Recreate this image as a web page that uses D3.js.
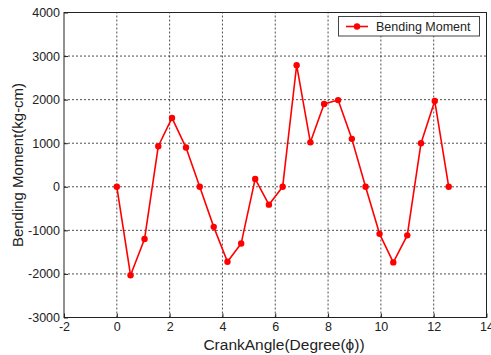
<!DOCTYPE html>
<html>
<head>
<meta charset="utf-8">
<script src="https://cdn.jsdelivr.net/npm/d3@7"></script>
<style>
  html, body { margin: 0; padding: 0; background: #fff; }
  svg { display: block; font-family: "Liberation Sans", Arial, sans-serif; }
</style>
</head>
<body>
<svg id="chart" width="491" height="355"></svg>
<script>
// Crank angle (radians, steps of pi/6 over two revolutions)
const crankAngle = [0, 0.52, 1.05, 1.57, 2.09, 2.62, 3.14, 3.67, 4.19, 4.71, 5.24, 5.76, 6.28,
                    6.81, 7.33, 7.85, 8.38, 8.90, 9.42, 9.95, 10.47, 11.00, 11.52, 12.04, 12.57];
// Bending moment (kg-cm)
const bendingMoment = [0, -2030, -1200, 930, 1580, 900, 0, -920, -1720, -1300, 180, -410, 0,
                       2790, 1020, 1900, 1990, 1100, 0, -1080, -1735, -1115, 1000, 1970, 0];
const xTicks = [-2, 0, 2, 4, 6, 8, 10, 12, 14];
const yTicks = [-3000, -2000, -1000, 0, 1000, 2000, 3000, 4000];
const seriesName = "Bending Moment";

const svg = d3.select("#chart");
const m = { left: 64, right: 4.5, top: 12.5, bottom: 37.5 };
const W = 491, H = 355;
const x = d3.scaleLinear().domain([-2, 14]).range([m.left, W - m.right]);
const y = d3.scaleLinear().domain([-3000, 4000]).range([H - m.bottom, m.top]);

// dotted grid
const grid = svg.append("g");
grid.selectAll("line.vx").data(xTicks.slice(1, -1)).join("line")
  .attr("x1", d => x(d)).attr("x2", d => x(d))
  .attr("y1", y(-3000)).attr("y2", y(4000))
  .attr("stroke", "#222").attr("stroke-width", 0.8).attr("stroke-dasharray", "2,2");
grid.selectAll("line.hy").data(yTicks.slice(1, -1)).join("line")
  .attr("y1", d => y(d)).attr("y2", d => y(d))
  .attr("x1", x(-2)).attr("x2", x(14))
  .attr("stroke", "#222").attr("stroke-width", 0.8).attr("stroke-dasharray", "2,2");

// axes with inward ticks, plain hyphen minus signs
const fmt = d => String(d);
const xAxis = svg.append("g").attr("transform", `translate(0,${y(-3000)})`)
  .call(d3.axisBottom(x).tickValues(xTicks).tickSize(-4).tickPadding(5).tickFormat(fmt));
const yAxis = svg.append("g").attr("transform", `translate(${x(-2)},0)`)
  .call(d3.axisLeft(y).tickValues(yTicks).tickSize(-4).tickPadding(4).tickFormat(fmt));
[xAxis, yAxis].forEach(a => {
  a.select(".domain").remove();
  a.selectAll(".tick line").attr("stroke", "#222");
  a.selectAll(".tick text").attr("font-size", 12.5).attr("fill", "#222")
    .attr("font-family", "'Liberation Sans', Arial, sans-serif");
});

// box
svg.append("rect")
  .attr("x", x(-2)).attr("y", y(4000))
  .attr("width", x(14) - x(-2)).attr("height", y(-3000) - y(4000))
  .attr("fill", "none").attr("stroke", "#222").attr("stroke-width", 1);

// series
const pts = crankAngle.map((c, i) => [c, bendingMoment[i]]);
svg.append("path").datum(pts)
  .attr("d", d3.line().x(d => x(d[0])).y(d => y(d[1])))
  .attr("fill", "none").attr("stroke", "#f00").attr("stroke-width", 1.6)
  .attr("stroke-linejoin", "round");
svg.selectAll("circle.pt").data(pts).join("circle")
  .attr("cx", d => x(d[0])).attr("cy", d => y(d[1])).attr("r", 3.2)
  .attr("fill", "#f00");

// axis titles
svg.append("text").attr("x", 284).attr("y", 350)
  .attr("text-anchor", "middle").attr("font-size", 15.5).attr("fill", "#222")
  .text("CrankAngle(Degree(\u03d5))");
svg.append("text").attr("transform", `translate(23,${(y(-3000) + y(4000)) / 2}) rotate(-90)`)
  .attr("text-anchor", "middle").attr("font-size", 15).attr("fill", "#222")
  .text("Bending Moment(kg-cm)");

// legend
const lg = svg.append("g");
lg.append("rect").attr("x", 338.5).attr("y", 16.5).attr("width", 141).attr("height", 19.5)
  .attr("fill", "#fff").attr("stroke", "#444").attr("stroke-width", 1);
lg.append("line").attr("x1", 346).attr("x2", 368).attr("y1", 26.5).attr("y2", 26.5)
  .attr("stroke", "#f00").attr("stroke-width", 1.6);
lg.append("circle").attr("cx", 357).attr("cy", 26.5).attr("r", 3.2).attr("fill", "#f00");
lg.append("text").attr("x", 376).attr("y", 31).attr("font-size", 12.5).attr("fill", "#222")
  .text(seriesName);
</script>
</body>
</html>
